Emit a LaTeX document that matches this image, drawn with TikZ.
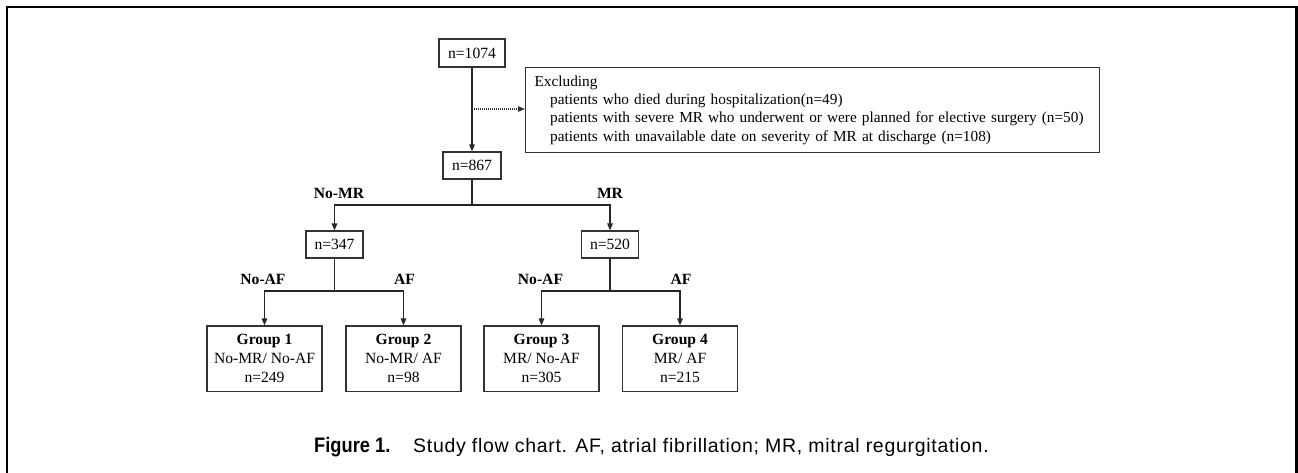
\documentclass[tikz,border=0pt]{standalone}
\usepackage{fontspec}
\setmainfont{Liberation Serif}
\newfontfamily\capfont[LetterSpace=3.6]{Liberation Sans}
\newfontfamily\figfont[FakeStretch=0.87]{Liberation Sans}
\usetikzlibrary{arrows.meta}
\begin{document}
\begin{tikzpicture}[x=1pt,y=-1pt,
  every node/.style={font=\fontsize{15.6}{18.3}\selectfont},
  box/.style={draw=black!80,line width=1.2pt,inner sep=0pt,align=center,fill=white},
  nbox/.style={box,minimum height=27pt},
  gbox/.style={box,minimum width=115pt,minimum height=65.5pt,font=\fontsize{15.6}{19}\selectfont},
  conn/.style={draw=black!85,line width=1.4pt},
  arr/.style={conn,-{Triangle[length=7pt,width=5.5pt]}},
  dotarr/.style={draw=black!80,line width=1.1pt,dash pattern=on 1pt off 1pt,-{Triangle[length=7pt,width=5.5pt]}},
  lab/.style={font=\fontsize{15.6}{18}\selectfont\bfseries,inner sep=0pt}
]
\useasboundingbox (0,0) rectangle (1298,472);
% frame
\draw[line width=2.5pt] (7,474) -- (7,7) -- (1296.7,7) -- (1296.7,474);

\node[nbox,minimum width=66pt,minimum height=28pt] (n1074) at (472,53) {n=1074};
\node[box,anchor=north west,minimum width=574pt,minimum height=85pt,text width=562pt,align=left,inner xsep=6pt,font=\fontsize{15.3}{18.3}\selectfont] (excl) at (525,67)
  {\hspace*{3pt}Excluding\\
   \hspace*{18.5pt}patients who died during hospitalization(n=49)\\
   \hspace*{18.5pt}patients with severe MR who underwent or were planned for elective surgery (n=50)\\
   \hspace*{18.5pt}patients with unavailable date on severity of MR at discharge (n=108)};
\node[nbox,minimum width=58pt] (n867) at (472,165.5) {n=867};
\node[nbox,minimum width=57pt] (n347) at (334.5,244.5) {n=347};
\node[nbox,minimum width=57pt] (n520) at (610,244.5) {n=520};

\node[gbox] (g1) at (264.5,358.75) {\textbf{Group 1}\\No-MR/ No-AF\\n=249};
\node[gbox] (g2) at (403.5,358.75) {\textbf{Group 2}\\No-MR/ AF\\n=98};
\node[gbox] (g3) at (541.5,358.75) {\textbf{Group 3}\\MR/ No-AF\\n=305};
\node[gbox] (g4) at (680,358.75) {\textbf{Group 4}\\MR/ AF\\n=215};

\coordinate (exc) at (472,109);
\coordinate (s1) at (472,205);
\coordinate (s2) at (334.5,291);
\coordinate (s3) at (610,291);

\draw[arr] (n1074) -- (n867);
\draw[dotarr] (exc) -- (excl.west |- exc);
\draw[conn] (n867) -- (s1);
\draw[arr] (s1) -| (n347.north);
\draw[arr] (s1) -| (n520.north);
\draw[conn] (n347) -- (s2);
\draw[arr] (s2) -| (g1.north);
\draw[arr] (s2) -| (g2.north);
\draw[conn] (n520) -- (s3);
\draw[arr] (s3) -| (g3.north);
\draw[arr] (s3) -| (g4.north);

\node[lab] (lnomr) at (339,193) {No-MR};
\node[lab] (lmr) at (610,193) {MR};
\node[lab] (lnoaf1) at (263,279) {No-AF};
\node[lab] (laf1) at (404.5,279) {AF};
\node[lab] (lnoaf2) at (540.5,279) {No-AF};
\node[lab] (laf2) at (681,279) {AF};

\node[anchor=base west,inner sep=0pt,font=\figfont\fontsize{21}{24}\selectfont\bfseries] (figlab) at (314,452) {Figure 1.};
\node[anchor=base west,inner sep=0pt,font=\capfont\fontsize{19.5}{22}\selectfont] (cap) at (413,452) {Study flow chart. AF, atrial fibrillation; MR, mitral regurgitation.};
\end{tikzpicture}
\end{document}
